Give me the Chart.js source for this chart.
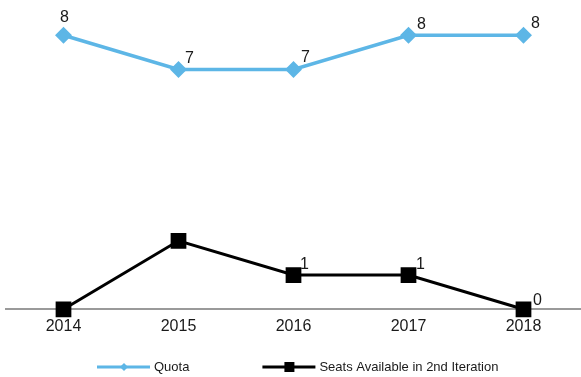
<!DOCTYPE html>
<html lang="en">
<head>
  <meta charset="UTF-8">
  <title>Quota vs Seats Available</title>
  <script src="https://cdn.jsdelivr.net/npm/chart.js"></script>
  <style>
    html, body { margin: 0; padding: 0; background: #fff; }
    #wrap { width: 581px; height: 377px; }
  </style>
</head>
<body>
  <div id="wrap"><canvas id="seatsChart"></canvas></div>

  <script>
    const years = ['2014', '2015', '2016', '2017', '2018'];
    const quota = [8, 7, 7, 8, 8];
    const seatsAvailable = [0, 2, 1, 1, 0];
    const seatsShowLabel = [false, false, true, true, true];

    const FONT = '"Liberation Sans", Arial, sans-serif';
    const BLUE = '#5DB6E6';

    // value labels next to each point
    const valueLabels = {
      id: 'valueLabels',
      afterDatasetsDraw(chart) {
        const ctx = chart.ctx;
        ctx.save();
        ctx.font = '16px ' + FONT;
        ctx.fillStyle = '#1a1a1a';
        ctx.textAlign = 'center';
        ctx.textBaseline = 'middle';
        chart.data.datasets.forEach((ds, di) => {
          const meta = chart.getDatasetMeta(di);
          meta.data.forEach((pt, i) => {
            if (ds.showLabel && !ds.showLabel[i]) return;
            const off = ds.labelOffset[i];
            ctx.fillText(String(ds.data[i]), pt.x + off[0], pt.y + off[1]);
          });
        });
        ctx.restore();
      }
    };

    // legend drawn as a line with the marker in the middle
    const lineLegend = {
      id: 'lineLegend',
      afterDraw(chart) {
        const ctx = chart.ctx;
        const y = 367;
        let x = 97;
        ctx.save();
        ctx.font = '13px ' + FONT;
        ctx.textBaseline = 'middle';
        chart.data.datasets.forEach(ds => {
          ctx.strokeStyle = ds.borderColor;
          ctx.lineWidth = 3;
          ctx.beginPath();
          ctx.moveTo(x, y);
          ctx.lineTo(x + 53, y);
          ctx.stroke();
          const cx = x + 27;
          ctx.fillStyle = ds.backgroundColor;
          if (ds.pointStyle === 'rectRot') {
            ctx.beginPath();
            ctx.moveTo(cx, y - 4);
            ctx.lineTo(cx + 4, y);
            ctx.lineTo(cx, y + 4);
            ctx.lineTo(cx - 4, y);
            ctx.closePath();
            ctx.fill();
          } else {
            ctx.fillRect(cx - 5, y - 5, 10, 10);
          }
          ctx.fillStyle = '#1a1a1a';
          ctx.fillText(ds.label, x + 57, y);
          x += 57 + ctx.measureText(ds.label).width + 73;
        });
        ctx.restore();
      }
    };

    new Chart(document.getElementById('seatsChart'), {
      type: 'line',
      data: {
        labels: years,
        datasets: [{
          label: 'Quota',
          data: quota,
          borderColor: BLUE,
          backgroundColor: BLUE,
          borderWidth: 3.5,
          pointStyle: 'rectRot',
          pointRadius: 6,
          pointHoverRadius: 6,
          tension: 0,
          clip: false,
          labelOffset: [[1, -18], [11, -11], [12, -12], [13, -11], [12, -12]]
        }, {
          label: 'Seats Available in 2nd Iteration',
          data: seatsAvailable,
          borderColor: '#000',
          backgroundColor: '#000',
          borderWidth: 3,
          pointStyle: 'rect',
          pointRadius: 9,
          pointHoverRadius: 9,
          tension: 0,
          clip: false,
          showLabel: seatsShowLabel,
          labelOffset: [[12, -10], [12, -10], [11, -10], [12, -10], [14, -9]]
        }]
      },
      options: {
        responsive: true,
        maintainAspectRatio: false,
        animation: false,
        layout: { autoPadding: false, padding: { left: 6, right: 0, top: 1, bottom: 32.5 } },
        plugins: {
          legend: { display: false },
          tooltip: { enabled: false }
        },
        scales: {
          x: {
            offset: true,
            grid: { display: false, drawTicks: false },
            border: { display: true, color: '#9a9a9a', width: 2 },
            ticks: { color: '#1a1a1a', padding: 8, font: { size: 16, family: FONT } }
          },
          y: {
            display: false,
            min: 0,
            max: 9
          }
        }
      },
      plugins: [valueLabels, lineLegend]
    });
  </script>
</body>
</html>
